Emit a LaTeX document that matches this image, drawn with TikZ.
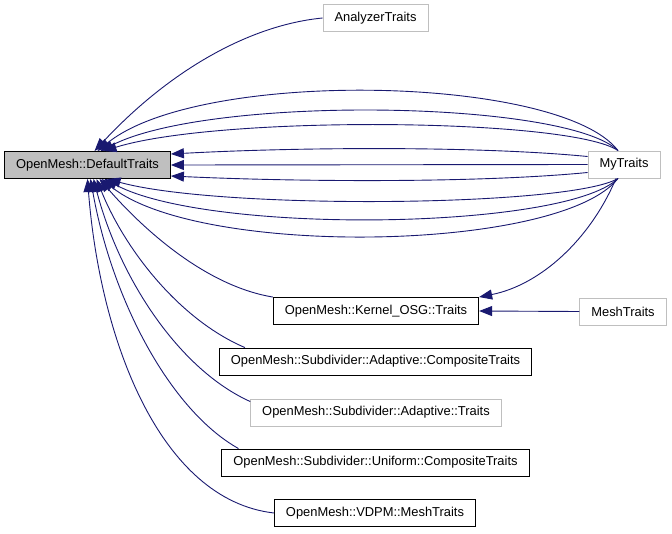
\documentclass[tikz,border=0pt]{standalone}
\usepackage{fontspec}
\setmainfont{Liberation Sans}
\usepackage{xcolor}
\usetikzlibrary{arrows.meta}
\definecolor{inhBlue}{HTML}{191970}
\definecolor{boxGray}{HTML}{BFBFBF}

\begin{document}
\begin{tikzpicture}[x=1pt, y=-1pt, font=\fontsize{12.9}{15}\selectfont,
  >={Triangle[length=13pt,width=10pt]},
  cls/.style={draw=black,line width=0.9pt,fill=white,minimum height=27pt,inner xsep=11.5pt,inner ysep=0pt},
  ext/.style={cls,draw=boxGray},
  cur/.style={cls,fill=boxGray},
  inh/.style={inhBlue,line width=0.9pt,->}]
\useasboundingbox (0,0) rectangle (672,533);
% --- classes ---
\node[cur] (dt) at (87.5,165) {OpenMesh::DefaultTraits};
\node[ext] (an) at (375.5,18) {AnalyzerTraits};
\node[ext] (my) at (624,164.5) {MyTraits};
\node[cls] (ko) at (376,311) {OpenMesh::Kernel\_OSG::Traits};
\node[ext] (mt) at (623,311.5) {MeshTraits};
\node[cls] (ac) at (375.5,361.5) {OpenMesh::Subdivider::Adaptive::CompositeTraits};
\node[ext] (at) at (376,412.5) {OpenMesh::Subdivider::Adaptive::Traits};
\node[cls] (uc) at (375.5,462.5) {OpenMesh::Subdivider::Uniform::CompositeTraits};
\node[cls] (vd) at (375,513) {OpenMesh::VDPM::MeshTraits};
% --- inheritance edges ---
\draw[inh] (an.west) .. controls (250,25) and (170,70) .. ([xshift=7pt]dt.north);
% MyTraits: over the top
\draw[inh] ([xshift=-6pt]my.north) .. controls (560,75) and (200,68) .. ([xshift=10pt]dt.north);
\draw[inh] ([xshift=-6pt]my.north) .. controls (565,100) and (210,95) .. ([xshift=13pt]dt.north);
\draw[inh] ([xshift=-6pt]my.north) .. controls (570,118) and (220,115) .. ([xshift=16pt]dt.north);
% MyTraits: to the side
\draw[inh] ([yshift=8pt]my.west) .. controls (480,146) and (300,147) .. ([yshift=11pt]dt.east);
\draw[inh] (my.west) -- (dt.east);
\draw[inh] ([yshift=-8pt]my.west) .. controls (480,183) and (300,182) .. ([yshift=-11pt]dt.east);
% MyTraits: underneath
\draw[inh] ([xshift=-6pt]my.south) .. controls (570,207) and (220,210) .. ([xshift=20pt]dt.south);
\draw[inh] ([xshift=-6pt]my.south) .. controls (565,230) and (210,235) .. ([xshift=17pt]dt.south);
\draw[inh] ([xshift=-6pt]my.south) .. controls (560,252) and (200,258) .. ([xshift=14pt]dt.south);
\draw[inh] ([xshift=-8pt]my.south) .. controls (590,240) and (540,285) .. (ko.north east);
\draw[inh] (mt.west) -- (ko.east);
% the rest
\draw[inh] (ko.north west) .. controls (200,285) and (135,220) .. ([xshift=12pt]dt.south);
\draw[inh] ([xshift=26pt]ac.north west) .. controls (180,320) and (125,250) .. ([xshift=9pt]dt.south);
\draw[inh] ([yshift=-3pt]at.north west) .. controls (180,370) and (120,280) .. ([xshift=6pt]dt.south);
\draw[inh] ([xshift=17pt]uc.north west) .. controls (170,410) and (112,300) .. ([xshift=3pt]dt.south);
\draw[inh] (vd.west) .. controls (160,500) and (100,340) .. (dt.south);
\end{tikzpicture}
\end{document}
